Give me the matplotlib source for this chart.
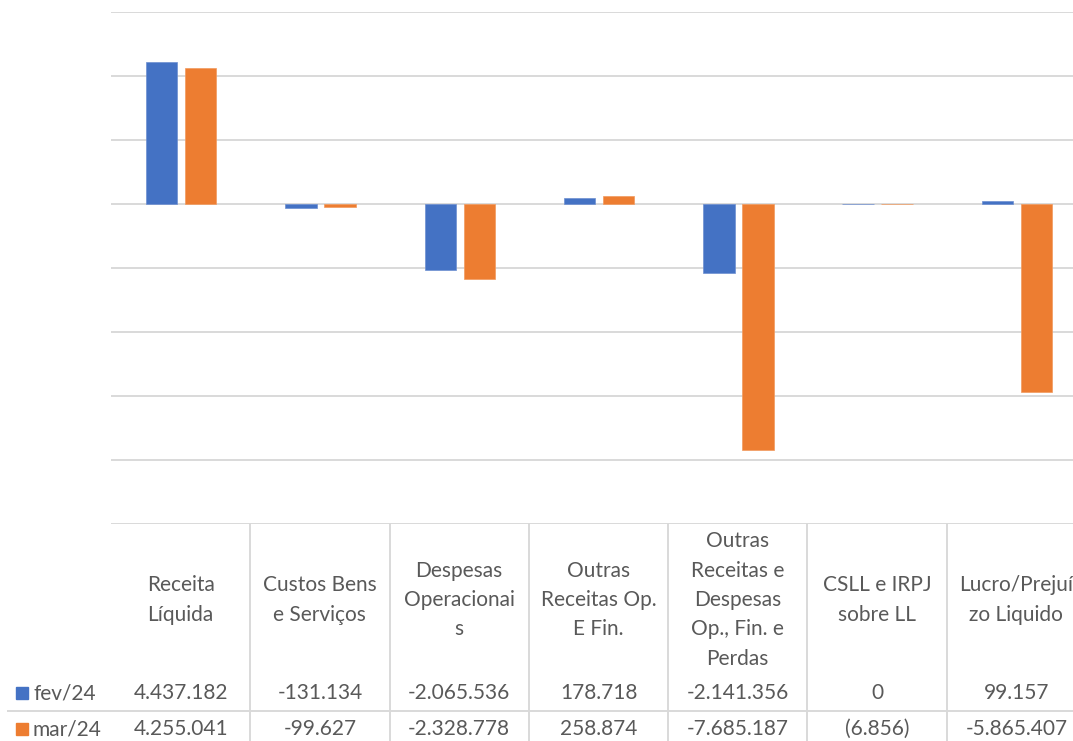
import matplotlib.pyplot as plt
import matplotlib.transforms as mtransforms
import numpy as np

plt.rcParams['font.family'] = ['Lato', 'DejaVu Sans']

categories = ['Receita\nLíquida', 'Custos Bens\ne Serviços', 'Despesas\nOperacionai\ns',
              'Outras\nReceitas Op.\nE Fin.', 'Outras\nReceitas e\nDespesas\nOp., Fin. e\nPerdas',
              'CSLL e IRPJ\nsobre LL', 'Lucro/Prejuí\nzo Liquido']
fev = [4437182, -131134, -2065536, 178718, -2141356, 0, 99157]
mar = [4255041, -99627, -2328778, 258874, -7685187, -6856, -5865407]
fev_labels = ['4.437.182', '-131.134', '-2.065.536', '178.718', '-2.141.356', '0', '99.157']
mar_labels = ['4.255.041', '-99.627', '-2.328.778', '258.874', '-7.685.187', '(6.856)', '-5.865.407']
series = ['fev/24', 'mar/24']

blue = '#4472C4'
orange = '#ED7D31'
grid_c = '#d9d9d9'
text_c = '#595959'

W, H = 1073, 741
fig = plt.figure(figsize=(W / 100, H / 100), dpi=100)

# plot area in pixels: x 111..1086 (runs off the right edge), y 12..524
ax = fig.add_axes([111 / W, (H - 524) / H, 975 / W, 512 / H])
x = np.arange(len(categories))
bw = 0.225
ax.bar(x - 0.136, fev, bw, color=blue, edgecolor='#6d8fd0', linewidth=0.5, zorder=3)
ax.bar(x + 0.144, mar, bw, color=orange, edgecolor='#f29a5e', linewidth=0.5, zorder=3)

ax.set_xlim(-0.5, len(categories) - 0.5)
ax.set_ylim(-10000000, 6000000)
ax.set_yticks(np.arange(-10000000, 6000001, 2000000))
ax.yaxis.grid(True, color=grid_c, linewidth=1.4, zorder=0)
ax.tick_params(left=False, bottom=False, labelleft=False, labelbottom=False)
for s in ax.spines.values():
    s.set_visible(False)

# data table under the chart
tr = mtransforms.blended_transform_factory(ax.transData, fig.transFigure)
fy = lambda py: (H - py) / H
fs = 15

for i, c in enumerate(categories):
    ax.text(i, fy(600), c, transform=tr, ha='center', va='center', fontsize=fs,
            color=text_c, linespacing=1.58, clip_on=False)
    ax.text(i, fy(693), fev_labels[i], transform=tr, ha='center', va='center',
            fontsize=fs, color=text_c, clip_on=False)
    ax.text(i, fy(729), mar_labels[i], transform=tr, ha='center', va='center',
            fontsize=fs, color=text_c, clip_on=False)

# vertical separators
for k in range(1, len(categories) + 1):
    ax.plot([k - 0.5, k - 0.5], [fy(524), fy(741)], transform=tr, color=grid_c,
            linewidth=1.4, clip_on=False)
# row separator
fig.add_artist(plt.Line2D([8 / W, 1], [fy(711), fy(711)], color=grid_c, linewidth=1.4))

# legend keys in the row headers
for name, col, py in [(series[0], blue, 693), (series[1], orange, 729)]:
    fig.add_artist(plt.Rectangle((16 / W, fy(py + 6)), 12 / W, 12 / H, color=col))
    fig.text(33 / W, fy(py), name, ha='left', va='center', fontsize=fs, color=text_c)

fig.savefig('out.png', dpi=100)
